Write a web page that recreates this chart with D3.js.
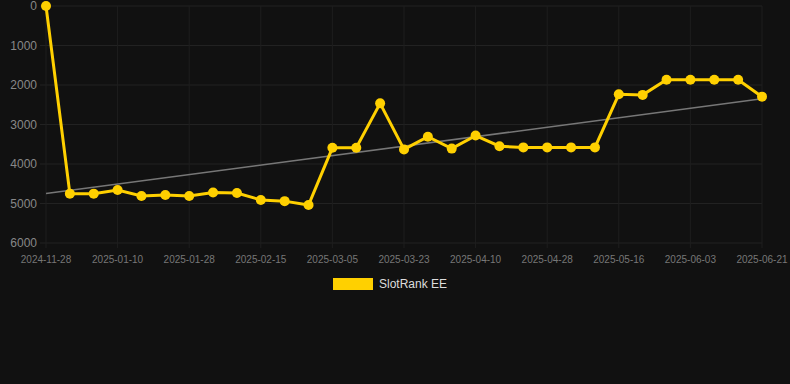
<!DOCTYPE html>
<html>
<head>
<meta charset="utf-8">
<script src="https://cdn.jsdelivr.net/npm/d3@7"></script>
<style>
  html, body { margin: 0; padding: 0; background: #111111; }
  svg { display: block; font-family: "Liberation Sans", Arial, sans-serif; }
</style>
</head>
<body>
<svg id="chart" width="790" height="384"></svg>
<script>
var dates = ["2024-11-28", "2024-12-29", "2025-01-04", "2025-01-10", "2025-01-16", "2025-01-22",
    "2025-01-28", "2025-02-03", "2025-02-09", "2025-02-15", "2025-02-21", "2025-02-27",
    "2025-03-05", "2025-03-11", "2025-03-17", "2025-03-23", "2025-03-29", "2025-04-04",
    "2025-04-10", "2025-04-16", "2025-04-22", "2025-04-28", "2025-05-04", "2025-05-10",
    "2025-05-16", "2025-05-22", "2025-05-28", "2025-06-03", "2025-06-09", "2025-06-15",
    "2025-06-21"];
var ranks = [0, 4750, 4750, 4660, 4810, 4785, 4810, 4720, 4735, 4910, 4940, 5040,
    3590, 3590, 2465, 3630, 3310, 3610, 3280, 3550, 3580, 3580, 3580, 3580,
    2235, 2250, 1865, 1865, 1865, 1865, 2295];
// trend line values at first and last date
var trend = [4745, 2350];
var yTicks = [0, 1000, 2000, 3000, 4000, 5000, 6000];
var seriesName = "SlotRank EE";

var svg = d3.select("#chart");
var plotLeft = 46, plotRight = 762, plotTop = 6, plotBottom = 243;

var x = d3.scalePoint().domain(dates).range([plotLeft, plotRight]);
var y = d3.scaleLinear().domain([0, 6000]).range([plotTop, plotBottom]);

// grid
var grid = svg.append("g");
grid.selectAll("line.h").data(yTicks).enter().append("line")
    .attr("x1", 40).attr("x2", plotRight)
    .attr("y1", function (d) { return y(d); }).attr("y2", function (d) { return y(d); })
    .attr("stroke", "#222").attr("stroke-width", 1);
var shown = dates.filter(function (d, i) { return i % 3 == 0; });
grid.selectAll("line.v").data(shown).enter().append("line")
    .attr("x1", function (d) { return x(d); }).attr("x2", function (d) { return x(d); })
    .attr("y1", plotTop).attr("y2", plotBottom + 5)
    .attr("stroke", "#1e1e1e").attr("stroke-width", 1);

// y axis labels
svg.append("g").selectAll("text").data(yTicks).enter().append("text")
    .attr("x", 37).attr("y", function (d) { return y(d); })
    .attr("dy", "0.35em").attr("text-anchor", "end")
    .attr("fill", "#888").attr("font-size", 12)
    .text(function (d) { return d; });

// x axis labels
svg.append("g").selectAll("text").data(shown).enter().append("text")
    .attr("x", function (d) { return x(d); }).attr("y", 259)
    .attr("dy", "0.35em").attr("text-anchor", "middle")
    .attr("fill", "#777").attr("font-size", 10)
    .text(function (d) { return d; });

// trend line
svg.append("line")
    .attr("x1", x(dates[0])).attr("y1", y(trend[0]))
    .attr("x2", x(dates[dates.length - 1])).attr("y2", y(trend[1]))
    .attr("stroke", "#777").attr("stroke-width", 1.5);

// series
var line = d3.line()
    .x(function (d, i) { return x(dates[i]); })
    .y(function (d) { return y(d); });
svg.append("path").datum(ranks)
    .attr("d", line).attr("fill", "none")
    .attr("stroke", "#FFD000").attr("stroke-width", 3);
svg.append("g").selectAll("circle").data(ranks).enter().append("circle")
    .attr("cx", function (d, i) { return x(dates[i]); })
    .attr("cy", function (d) { return y(d); })
    .attr("r", 5).attr("fill", "#FFD000");

// legend
svg.append("rect").attr("x", 333).attr("y", 278).attr("width", 40).attr("height", 12)
    .attr("fill", "#FFD000");
svg.append("text").attr("x", 379).attr("y", 284).attr("dy", "0.35em")
    .attr("fill", "#ddd").attr("font-size", 12).text(seriesName);
</script>
</body>
</html>
